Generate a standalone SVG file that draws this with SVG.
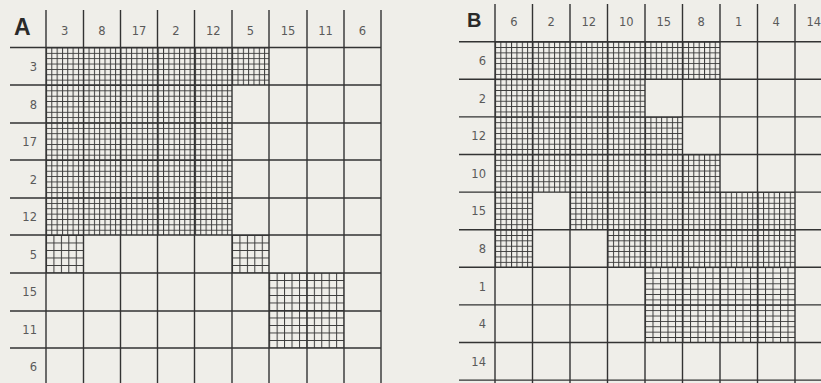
<svg xmlns="http://www.w3.org/2000/svg" width="821" height="383" viewBox="0 0 821 383">
<defs>
<style>
.bg{fill:#efeee9}
.main{stroke:#333;stroke-width:1.4;fill:none}
.lbl{font-family:"DejaVu Sans","Liberation Sans",sans-serif;font-size:11.5px;fill:#5a5a5a}
.title{font-family:"Liberation Sans","DejaVu Sans",sans-serif;font-weight:bold;fill:#2a2a2a}
</style>
<pattern id="hA" patternUnits="userSpaceOnUse" x="46" y="47.5" width="5.32" height="5.36">
<path d="M0.5 0V5.36M0 0.5H5.32" stroke="#3a3a3a" stroke-width="1" fill="none"/>
</pattern>
<pattern id="hA2" patternUnits="userSpaceOnUse" x="46" y="47.5" width="7.44" height="7.5">
<path d="M0.5 0V7.5M0 0.5H7.44" stroke="#3a3a3a" stroke-width="1" fill="none"/>
</pattern>
<pattern id="hB" patternUnits="userSpaceOnUse" x="495" y="41.7" width="5.36" height="5.37">
<path d="M0.5 0V5.37M0 0.5H5.36" stroke="#3a3a3a" stroke-width="1" fill="none"/>
</pattern>
<pattern id="hB2" patternUnits="userSpaceOnUse" x="495" y="41.7" width="7.5" height="5.37">
<path d="M0.5 0V5.37M0 0.5H7.5" stroke="#3a3a3a" stroke-width="1" fill="none"/>
</pattern>
</defs>
<rect class="bg" x="0" y="0" width="821" height="383"/>

<g id="gridA">
<g id="gridA-fill">
<rect x="46" y="47.5" width="223" height="37.5" fill="url(#hA)"/>
<rect x="46" y="85" width="186" height="150" fill="url(#hA)"/>
<rect x="46" y="235" width="37.5" height="38" fill="url(#hA2)"/>
<rect x="232" y="235" width="37" height="38" fill="url(#hA2)"/>
<rect x="269" y="273" width="75" height="75" fill="url(#hA2)"/>
</g>
<g id="gridA-lines" class="main">
<path d="M46 10V383M83.5 10V383M120.5 10V383M157.5 10V383M194.5 10V383M232 10V383M269 10V383M307 10V383M344 10V383M381 10V383"/>
<path d="M10 47.5H381M10 85H381M10 123H381M10 160H381M10 198H381M10 235H381M10 273H381M10 311H381M10 348H381"/>
</g>
<text class="title" x="14" y="35" font-size="23">A</text>
<g id="gridA-cols" class="lbl" text-anchor="middle">
<text x="64.7" y="35">3</text><text x="102" y="35">8</text><text x="139" y="35">17</text>
<text x="176" y="35">2</text><text x="213.2" y="35">12</text><text x="250.5" y="35">5</text>
<text x="288" y="35">15</text><text x="325.5" y="35">11</text><text x="362.5" y="35">6</text>
</g>
<g id="gridA-rows" class="lbl" text-anchor="end">
<text x="37" y="71">3</text><text x="37" y="108.5">8</text><text x="37" y="146">17</text>
<text x="37" y="183.5">2</text><text x="37" y="221">12</text><text x="37" y="258.5">5</text>
<text x="37" y="296">15</text><text x="37" y="333.5">11</text><text x="37" y="371">6</text>
</g>
</g>

<g id="gridB">
<g id="gridB-fill">
<rect x="495" y="41.7" width="225" height="37.6" fill="url(#hB)"/>
<rect x="495" y="79.3" width="150" height="37.6" fill="url(#hB)"/>
<rect x="495" y="116.9" width="187.5" height="37.6" fill="url(#hB)"/>
<rect x="495" y="154.5" width="225" height="37.6" fill="url(#hB)"/>
<rect x="495" y="192.1" width="37.5" height="75.2" fill="url(#hB)"/>
<rect x="570" y="192.1" width="225" height="37.6" fill="url(#hB)"/>
<rect x="607.5" y="229.7" width="187.5" height="37.6" fill="url(#hB)"/>
<rect x="645" y="267.3" width="150" height="75.2" fill="url(#hB2)"/>
</g>
<g id="gridB-lines" class="main">
<path d="M495 4V383M532.5 4V383M570 4V383M607.5 4V383M645 4V383M682.5 4V383M720 4V383M757.5 4V383M795 4V383"/>
<path d="M459 41.7H821M459 79.3H821M459 116.9H821M459 154.5H821M459 192.1H821M459 229.7H821M459 267.3H821M459 304.9H821M459 342.5H821M459 380.1H821"/>
</g>
<text class="title" x="467" y="27" font-size="20">B</text>
<g id="gridB-cols" class="lbl" text-anchor="middle">
<text x="514" y="26">6</text><text x="551.2" y="26">2</text><text x="588.7" y="26">12</text>
<text x="626.2" y="26">10</text><text x="663.7" y="26">15</text><text x="701.2" y="26">8</text>
<text x="738.7" y="26">1</text><text x="776.2" y="26">4</text><text x="813.7" y="26">14</text>
</g>
<g id="gridB-rows" class="lbl" text-anchor="end">
<text x="486" y="65">6</text><text x="486" y="102.6">2</text><text x="486" y="140.2">12</text>
<text x="486" y="177.8">10</text><text x="486" y="215.4">15</text><text x="486" y="253">8</text>
<text x="486" y="290.6">1</text><text x="486" y="328.2">4</text><text x="486" y="365.8">14</text>
</g>
</g>
</svg>
